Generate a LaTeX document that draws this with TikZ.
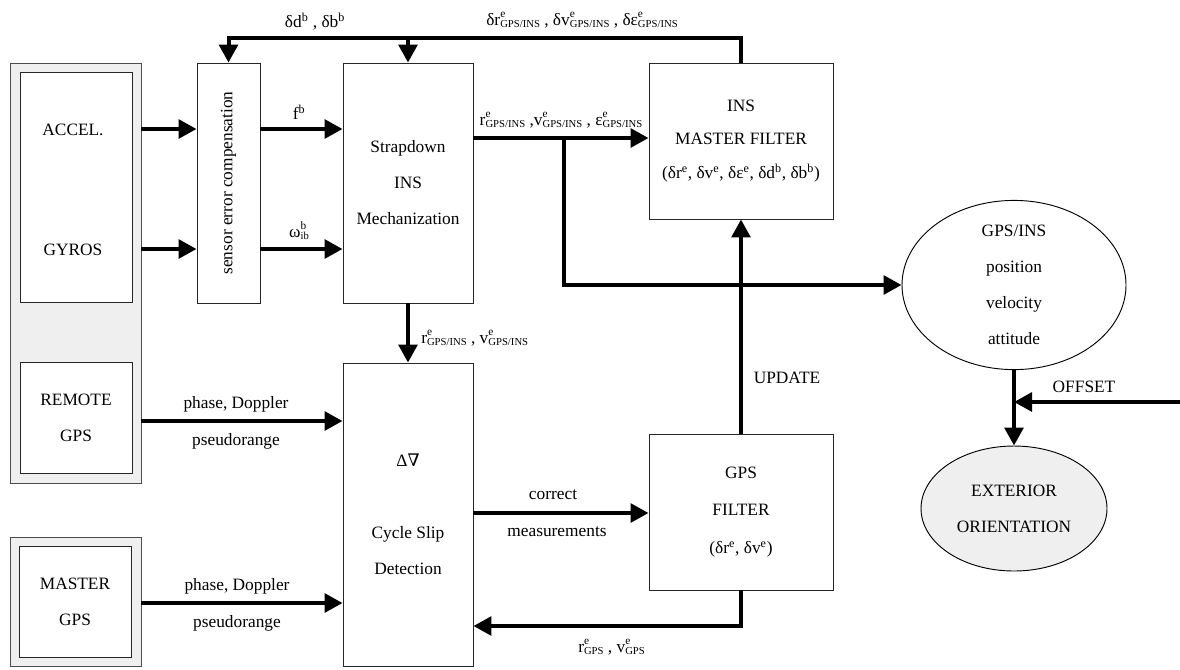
\documentclass[tikz,border=0pt]{standalone}
\usepackage{fontspec}
\setmainfont{Liberation Serif}
\newfontfamily\dvs{DejaVu Serif}
\usetikzlibrary{arrows.meta,shapes.geometric}
\definecolor{panel}{HTML}{EFEFEF}
\newcommand\supsub[2]{\rlap{\raisebox{6pt}{\fontsize{8.5}{9}\selectfont #1}}\raisebox{-1.5pt}{\fontsize{8}{9}\selectfont #2}}
\newcommand\upx[1]{\textsuperscript{#1}}
\begin{document}
\begin{tikzpicture}[x=0.75pt,y=-0.75pt,
  font=\fontsize{13}{27}\selectfont,
  box/.style={draw=black!85, line width=0.7pt, fill=white, inner sep=0pt, align=center},
  panelbox/.style={draw=black!70, line width=0.7pt, fill=panel, inner sep=0pt},
  oval/.style={ellipse, draw=black, line width=0.7pt, inner sep=0pt, align=center},
  arr/.style={line width=3pt, -{Triangle[length=13.5pt,width=14pt]}},
  lbl/.style={inner sep=0pt, align=center}]
\useasboundingbox (0,0) rectangle (1180,669);

% left panels
\node[panelbox, minimum width=98.25pt, minimum height=315pt] (outerIMU) at (75.5,273) {};
\node[box, minimum width=84pt, minimum height=172.5pt] (imu) at (76,187) {};
\node[lbl] (accel) at (73,130) {ACCEL.};
\node[lbl] (gyros) at (73,250) {GYROS};
\node[box, minimum width=84pt, minimum height=83.25pt] (remote) at (76,417.5) {REMOTE\\GPS};
\node[panelbox, minimum width=98.25pt, minimum height=96.75pt] (outerMaster) at (75.5,601.5) {};
\node[box, minimum width=84pt, minimum height=83.25pt] (master) at (75,601.5) {MASTER\\GPS};

% processing boxes
\node[box, minimum width=47.25pt, minimum height=180pt] (sec) at (228.5,183) {};
\node[lbl, rotate=90] (sectext) at (sec.center) {sensor error compensation};
\node[box, minimum width=97.5pt, minimum height=180pt] (strap) at (408,183) {Strapdown\\INS\\Mechanization};
\node[box, minimum width=97.5pt, minimum height=227.25pt] (dd) at (408,514.5) {Δ{\dvs ∇}\\[27pt]Cycle Slip\\Detection};
\node[box, minimum width=138pt, minimum height=117pt, font=\fontsize{13}{25}\selectfont] (insf) at (741,141)
  {INS\\MASTER FILTER\\(δr\upx{e}, δv\upx{e}, δε\upx{e}, δd\upx{b}, δb\upx{b})};
\node[box, minimum width=138pt, minimum height=117pt, font=\fontsize{13}{28}\selectfont] (gpsf) at (741,512)
  {GPS\\FILTER\\(δr\upx{e}, δv\upx{e})};
\node[oval, minimum width=168pt, minimum height=112.5pt] (ell1) at (1014,285) {GPS/INS\\position\\velocity\\attitude};
\node[oval, fill=panel, minimum width=139.5pt, minimum height=93.75pt] (ell2) at (1014,508.5) {EXTERIOR\\ORIENTATION};

% helper coordinates
\coordinate (ya) at (0,129);
\coordinate (yg) at (0,249);
\coordinate (yo) at (0,138);
\coordinate (top) at (0,38);
\coordinate (br) at (564,138);
\coordinate (yr) at (0,421);
\coordinate (ym) at (0,603);
\coordinate (yc) at (0,513);
\coordinate (yf) at (0,626);
\coordinate (offs) at (1180,402);

% connectors
\draw[arr] (outerIMU.east |- ya) -- (sec.west |- ya);
\draw[arr] (outerIMU.east |- yg) -- (sec.west |- yg);
\draw[arr] (sec.east |- ya) -- (strap.west |- ya);
\draw[arr] (sec.east |- yg) -- (strap.west |- yg);
\draw[arr] (strap.east |- yo) -- (insf.west |- yo);
\draw[arr] (br) |- (ell1.west);
\draw[arr] (strap.south) -- (dd.north);
\draw[arr] (insf.north) |- (sec.north |- top) -- (sec.north);
\draw[arr] (strap.north |- top) -- (strap.north);
\draw[arr] (gpsf.north) -- (insf.south);
\draw[arr] (outerIMU.east |- yr) -- (dd.west |- yr);
\draw[arr] (outerMaster.east |- ym) -- (dd.west |- ym);
\draw[arr] (dd.east |- yc) -- (gpsf.west |- yc);
\draw[arr] (gpsf.south) |- (dd.east |- yf);
\draw[arr] (ell1.south) -- (ell2.north);
\draw[arr] (offs) -- (ell1.south |- offs);

% labels
\node[lbl] (lbdd) at (315,22) {δd\upx{b} , δb\upx{b}};
\node[lbl] (lbdr) at (582,20) {δr\supsub{e}{GPS/INS} , δv\supsub{e}{GPS/INS} , δε\supsub{e}{GPS/INS}};
\node[lbl] (lbf) at (299,112) {f\upx{b}};
\node[lbl] (lbw) at (299,231) {ω\supsub{b}{ib}};
\node[lbl] (lbout) at (561,120) {r\supsub{e}{GPS/INS} ,v\supsub{e}{GPS/INS} , ε\supsub{e}{GPS/INS}};
\node[lbl, anchor=west] (lbdown) at (421,338) {r\supsub{e}{GPS/INS} , v\supsub{e}{GPS/INS}};
\node[lbl] (lbupd) at (787,378) {UPDATE};
\node[lbl] (lbrp) at (236,404) {phase, Doppler};
\node[lbl] (lbrpr) at (236,441) {pseudorange};
\node[lbl] (lbmp) at (237,586) {phase, Doppler};
\node[lbl] (lbmpr) at (237,623) {pseudorange};
\node[lbl] (lbc) at (553,495) {correct};
\node[lbl] (lbm) at (557,532) {measurements};
\node[lbl, anchor=west] (lbgps) at (578,647) {r\supsub{e}{GPS} , v\supsub{e}{GPS}};
\node[lbl] (lboff) at (1084,387) {OFFSET};
\end{tikzpicture}
\end{document}
